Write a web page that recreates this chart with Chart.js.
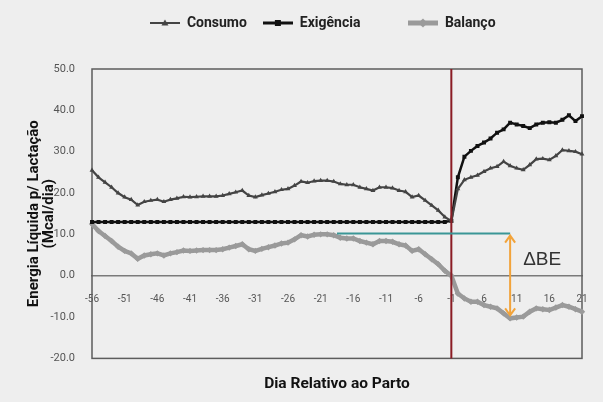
<!DOCTYPE html>
<html>
<head>
<meta charset="utf-8">
<script src="https://cdn.jsdelivr.net/npm/chart.js@4.4.1/dist/chart.umd.min.js"></script>
<style>
  html, body { margin: 0; padding: 0; background: #eeeeee; }
  #wrap { width: 603px; height: 402px; }
</style>
</head>
<body>
<div id="wrap"><canvas id="myChart"></canvas></div>
<script>
// days relative to calving (category labels)
const days = [
    -56, -55, -54, -53, -52, -51, -50, -49, -48, -47, -46, -45, -44, -43,
    -42, -41, -40, -39, -38, -37, -36, -35, -34, -33, -32, -31, -30, -29,
    -28, -27, -26, -25, -24, -23, -22, -21, -20, -19, -18, -17, -16, -15,
    -14, -13, -12, -11, -10, -9, -8, -7, -6, -5, -4, -3, -2, -1,
    2, 3, 4, 5, 6, 7, 8, 9, 10, 11, 12, 13, 14, 15, 16, 17, 18, 19, 20, 21,
];

const consumo = [
    25.5, 23.8, 22.6, 21.4, 20.0, 19.0, 18.4, 17.1, 17.9, 18.2,
    18.4, 17.9, 18.4, 18.7, 19.1, 19.0, 19.1, 19.2, 19.2, 19.2,
    19.4, 19.8, 20.2, 20.6, 19.4, 19.0, 19.5, 19.9, 20.3, 20.8,
    21.0, 21.8, 22.8, 22.5, 22.9, 23.0, 23.0, 22.8, 22.2, 22.0,
    22.0, 21.4, 21.0, 20.6, 21.4, 21.4, 21.2, 20.6, 20.3, 19.0,
    19.4, 18.2, 17.0, 15.8, 14.2, 13.2,
    21.0, 23.2, 23.8, 24.3, 25.2, 26.0, 26.4, 27.6, 26.6, 26.0,
    25.6, 26.8, 28.2, 28.3, 28.0, 29.0, 30.4, 30.2, 30.0, 29.4,
];

const exigencia = [
    13.0, 13.0, 13.0, 13.0, 13.0, 13.0, 13.0, 13.0, 13.0, 13.0,
    13.0, 13.0, 13.0, 13.0, 13.0, 13.0, 13.0, 13.0, 13.0, 13.0,
    13.0, 13.0, 13.0, 13.0, 13.0, 13.0, 13.0, 13.0, 13.0, 13.0,
    13.0, 13.0, 13.0, 13.0, 13.0, 13.0, 13.0, 13.0, 13.0, 13.0,
    13.0, 13.0, 13.0, 13.0, 13.0, 13.0, 13.0, 13.0, 13.0, 13.0,
    13.0, 13.0, 13.0, 13.0, 13.0, 13.3,
    23.8, 28.8, 30.2, 31.4, 32.2, 33.2, 34.6, 35.4, 37.0, 36.6,
    36.2, 35.7, 36.6, 37.0, 37.1, 37.0, 37.7, 38.8, 37.4, 38.6,
];

const balanco = [
    12.5, 10.8, 9.6, 8.4, 7.0, 6.0, 5.4, 4.1, 4.9, 5.2,
    5.4, 4.9, 5.4, 5.7, 6.1, 6.0, 6.1, 6.2, 6.2, 6.2,
    6.4, 6.8, 7.2, 7.6, 6.4, 6.0, 6.5, 6.9, 7.3, 7.8,
    8.0, 8.8, 9.8, 9.5, 9.9, 10.0, 10.0, 9.8, 9.2, 9.0,
    9.0, 8.4, 8.0, 7.6, 8.4, 8.4, 8.2, 7.6, 7.3, 6.0,
    6.4, 5.2, 4.0, 2.8, 1.2, 0.0,
    -4.3, -5.5, -6.3, -6.3, -7.1, -7.5, -7.9, -9.1, -10.3, -10.1,
    -9.9, -8.7, -7.9, -8.1, -8.3, -7.7, -7.1, -7.5, -8.1, -8.7,
];

const yTicks = [-20, -10, 0, 10, 20, 30, 40, 50];

// annotation: calving line and energy gap (ΔBE)
const partoIndex = 55;
const gapLevel = 10.2;
const gapFrom = 37.5;
const gapTo = 64;
const gapBottom = -9.6;

Chart.defaults.font.family = "Roboto, 'Liberation Sans', sans-serif";

function legendIcon(color, width, shape, s) {
    const c = document.createElement("canvas");
    c.width = 30;
    c.height = 12;
    const g = c.getContext("2d");
    g.strokeStyle = color;
    g.fillStyle = color;
    g.lineWidth = width;
    g.beginPath();
    g.moveTo(0, 6);
    g.lineTo(30, 6);
    g.stroke();
    g.beginPath();
    if (shape === "triangle") {
        g.moveTo(15, 6 - s);
        g.lineTo(15 + s, 6 + s * 0.7);
        g.lineTo(15 - s, 6 + s * 0.7);
    } else if (shape === "rect") {
        g.rect(15 - s, 6 - s, 2 * s, 2 * s);
    } else {
        g.moveTo(15, 6 - s);
        g.lineTo(15 + s, 6);
        g.lineTo(15, 6 + s);
        g.lineTo(15 - s, 6);
    }
    g.closePath();
    g.fill();
    return c;
}

const icons = [
    legendIcon("#444444", 2, "triangle", 3.5),
    legendIcon("#111111", 3, "rect", 3),
    legendIcon("#9a9a9a", 5, "diamond", 4.5),
];
// trailing spaces only widen the gaps, as in the source legend
const legendText = ["Consumo", "Exigência\u2003\u2003\u2009", "Balanço\u2003\u2003"];

// more room under the legend
const legendGap = {
    id: "legendGap",
    beforeInit(chart) {
        const fit = chart.legend.fit;
        chart.legend.fit = function () {
            fit.call(this);
            this.height += 29;
        };
    },
};

const drawExtras = {
    id: "drawExtras",
    beforeDatasetsDraw(chart) {
        const { ctx, chartArea: a } = chart;
        ctx.save();
        ctx.strokeStyle = "#5c5c5c";
        ctx.lineWidth = 1.5;
        ctx.strokeRect(a.left, a.top, a.right - a.left, a.bottom - a.top);
        ctx.restore();
    },
    afterDatasetsDraw(chart) {
        const { ctx, chartArea: a, scales } = chart;
        const x = scales.x;
        const y = scales.y;
        ctx.save();

        // calving
        const px = x.getPixelForValue(partoIndex);
        ctx.strokeStyle = "#8b1c24";
        ctx.lineWidth = 2;
        ctx.beginPath();
        ctx.moveTo(px, a.top);
        ctx.lineTo(px, a.bottom);
        ctx.stroke();

        // teal reference
        const ty = y.getPixelForValue(gapLevel);
        const gx = x.getPixelForValue(gapTo);
        ctx.strokeStyle = "#3a9696";
        ctx.beginPath();
        ctx.moveTo(x.getPixelForValue(gapFrom), ty);
        ctx.lineTo(gx, ty);
        ctx.stroke();

        // double arrow
        const by = y.getPixelForValue(gapBottom);
        ctx.strokeStyle = "#f2a33a";
        ctx.lineWidth = 2;
        ctx.beginPath();
        ctx.moveTo(gx, ty + 2);
        ctx.lineTo(gx, by);
        ctx.moveTo(gx - 5, ty + 9);
        ctx.lineTo(gx, ty + 2);
        ctx.lineTo(gx + 5, ty + 9);
        ctx.moveTo(gx - 5, by - 7);
        ctx.lineTo(gx, by);
        ctx.lineTo(gx + 5, by - 7);
        ctx.stroke();

        ctx.fillStyle = "#333333";
        ctx.font = "19px 'Liberation Sans', sans-serif";
        ctx.textBaseline = "middle";
        ctx.fillText("ΔBE", gx + 13, y.getPixelForValue(3.8));
        ctx.restore();
    },
};

const ctx = document.getElementById("myChart");

new Chart(ctx, {
    type: "line",
    data: {
        labels: days,
        datasets: [
            {
                label: "Consumo",
                data: consumo,
                borderColor: "#444444",
                backgroundColor: "#444444",
                borderWidth: 2.2,
                pointStyle: "triangle",
                pointRadius: 2.8,
                pointBorderWidth: 0,
            },
            {
                label: "Exigência",
                data: exigencia,
                borderColor: "#111111",
                backgroundColor: "#111111",
                borderWidth: 2.5,
                pointStyle: "rect",
                pointRadius: 2.8,
                pointBorderWidth: 0,
            },
            {
                label: "Balanço",
                data: balanco,
                borderColor: "#9a9a9a",
                backgroundColor: "#9a9a9a",
                borderWidth: 4.5,
                pointStyle: "rectRot",
                pointRadius: 3.2,
                pointBorderWidth: 0,
            },
        ],
    },
    options: {
        responsive: true,
        maintainAspectRatio: false,
        animation: false,
        layout: { padding: { left: 6, right: 21, top: 0, bottom: 5 } },
        plugins: {
            tooltip: { enabled: false },
            legend: {
                position: "top",
                fullSize: false,
                labels: {
                    usePointStyle: true,
                    pointStyleWidth: 30,
                    boxHeight: 12,
                    padding: 16,
                    color: "#222222",
                    font: { size: 14, weight: "bold" },
                    generateLabels: (chart) =>
                        chart.data.datasets.map((ds, i) => ({
                            text: legendText[i],
                            pointStyle: icons[i],
                            fillStyle: "transparent",
                            strokeStyle: "transparent",
                            lineWidth: 0,
                            hidden: false,
                            datasetIndex: i,
                            fontColor: "#222222",
                        })),
                },
            },
        },
        scales: {
            x: {
                type: "category",
                grid: { display: false },
                border: { display: false },
                ticks: { display: false },
                title: {
                    display: true,
                    text: "Dia Relativo ao Parto",
                    color: "#111111",
                    font: { size: 15.5, weight: "bold" },
                    padding: { top: 8, bottom: 4 },
                },
            },
            xZero: {
                type: "category",
                axis: "x",
                labels: days,
                position: { y: 0 },
                grid: { display: false },
                border: { display: true, color: "#7a7a7a", width: 1.5 },
                ticks: {
                    autoSkip: false,
                    maxRotation: 0,
                    padding: 10,
                    color: "#555555",
                    font: { size: 10 },
                    callback: (v, i) => (i % 5 === 0 ? String(days[i]) : null),
                },
            },
            y: {
                min: -20,
                max: 50,
                afterBuildTicks: (scale) => {
                    scale.ticks = yTicks.map((v) => ({ value: v }));
                },
                afterFit: (scale) => {
                    scale.width = 86;
                },
                grid: { display: false },
                border: { display: false },
                ticks: {
                    padding: 9,
                    color: "#555555",
                    font: { size: 11 },
                    callback: (v) => v.toFixed(1),
                },
                title: {
                    display: true,
                    text: ["Energia Líquida p/ Lactação", "(Mcal/dia)"],
                    color: "#111111",
                    font: { size: 15, weight: "bold", lineHeight: 1.05 },
                    padding: { top: 20, bottom: 6 },
                },
            },
        },
    },
    plugins: [legendGap, drawExtras],
});
</script>
</body>
</html>
